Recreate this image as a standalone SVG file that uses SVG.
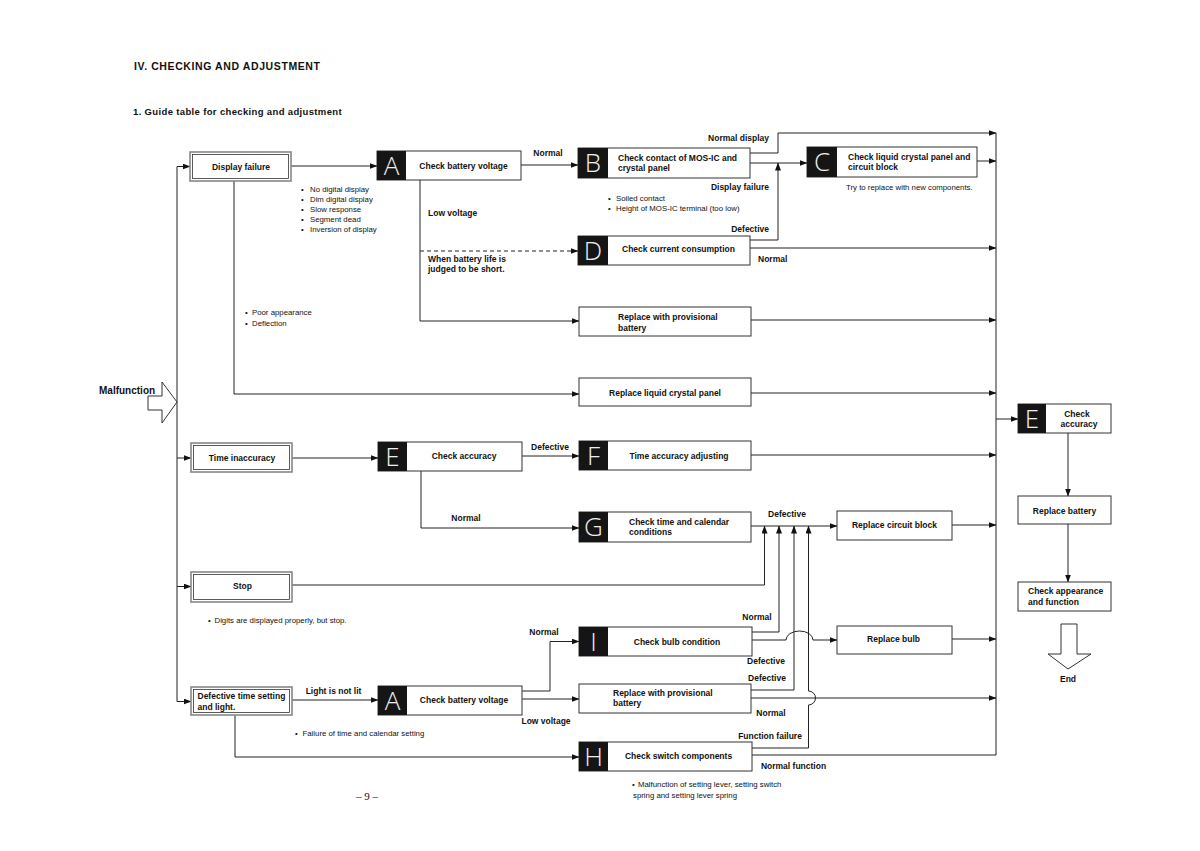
<svg xmlns="http://www.w3.org/2000/svg" width="1200" height="851" viewBox="0 0 1200 851">
<style>
text{font-family:"Liberation Sans",Arial,sans-serif;fill:#111}
.h1{font-size:10.5px;font-weight:bold;letter-spacing:0.6px}
.h2{font-size:9.5px;font-weight:bold;letter-spacing:0.35px}
.b{font-size:8.5px;font-weight:bold}
.s{font-size:7.8px}
.m{text-anchor:middle}
.e{text-anchor:end}
.box{fill:#fff;stroke:#333;stroke-width:1}
.o1{fill:#fff;stroke:#888;stroke-width:1.6}
.o2{fill:none;stroke:#333;stroke-width:0.8}
.blk{fill:#151515}
.let{font-family:"Open Sans","Lato","DejaVu Sans",sans-serif;font-size:26px;fill:#eee;text-anchor:middle;font-weight:300}
.ln{fill:none;stroke:#222;stroke-width:1}
.ar{marker-end:url(#ah)}
.dash{stroke-dasharray:4 3}
.big{fill:#fff;stroke:#333;stroke-width:1}
.pg{font-family:"Liberation Serif",serif;font-size:11px}
</style>
<defs>
<marker id="ah" markerUnits="userSpaceOnUse" markerWidth="8" markerHeight="6" refX="7.5" refY="3" orient="auto">
<path d="M0,0 L8,3 L0,6 z" fill="#111"/>
</marker>
</defs>
<rect width="1200" height="851" fill="#fff"/>

<text class="h1" x="134" y="70">IV.  CHECKING AND ADJUSTMENT</text>
<text class="h2" x="133" y="115">1. Guide table for checking and adjustment</text>

<g id="connectors">
<path class="ln" d="M177,166.5 V701.5"/>
<path class="ln ar" d="M177,166.5 H190"/>
<path class="ln ar" d="M177,458 H191"/>
<path class="ln ar" d="M177,586.5 H191"/>
<path class="ln ar" d="M177,701.5 H191"/>
<path class="ln ar" d="M291,166 H377"/>
<path class="ln ar" d="M234,181 V394 H579"/>
<path class="ln ar" d="M521,165 H578"/>
<path class="ln ar" d="M420,180 V321 H579"/>
<path class="ln ar dash" d="M420,251 H578"/>
<path class="ln ar" d="M750,153 H778 V133 H996"/>
<path class="ln ar" d="M750,163 H807"/>
<path class="ln ar" d="M750,240 H778 V163"/>
<path class="ln ar" d="M750,248 H996"/>
<path class="ln ar" d="M977,161 H996"/>
<path class="ln ar" d="M751,320 H996"/>
<path class="ln ar" d="M751,393 H996"/>
<path class="ln" d="M996,133 V755"/>
<path class="ln ar" d="M996,419 H1018"/>
<path class="ln ar" d="M1068,433 V496"/>
<path class="ln ar" d="M1068,524 V582"/>
<path class="ln ar" d="M292,458 H378"/>
<path class="ln ar" d="M522,456 H579"/>
<path class="ln ar" d="M751,455 H996"/>
<path class="ln ar" d="M421,471 V528 H579"/>
<path class="ln ar" d="M751,526 H837"/>
<path class="ln ar" d="M952,525 H996"/>
<path class="ln ar" d="M292,585 H764.5 V526"/>
<path class="ln ar" d="M752,632 H779 V526"/>
<path class="ln ar" d="M751,690 H794 V526"/>
<path class="ln ar" d="M752,748 H808.5 V705 A7,7 0 0 0 808.5,691 V526"/>
<path class="ln ar" d="M752,640 H786 A13.5,9 0 0 1 813,640 H837"/>
<path class="ln ar" d="M952,639 H996"/>
<path class="ln ar" d="M751,698 H996"/>
<path class="ln" d="M752,755 H996"/>
<path class="ln ar" d="M292,700 H378"/>
<path class="ln ar" d="M522,691 H550 V641.5 H579"/>
<path class="ln ar" d="M522,699 H579"/>
<path class="ln ar" d="M235,715 V757 H579"/>
</g>

<g id="malfunction">
<polygon class="big" points="148,396 162,396 162,382 177,402 162,423 162,410 148,410"/>
<text x="99" y="393.5" style="font-size:10px;font-weight:bold">Malfunction</text>
</g>

<g id="display-failure">
<rect class="o1" x="190" y="152" width="101" height="29"/>
<rect class="o2" x="192.5" y="154.5" width="96" height="24"/>
<text class="b m" x="241" y="169.5">Display failure</text>
</g>
<g id="display-notes">
<text class="s" x="301" y="192">•</text><text class="s" x="310" y="192">No digital display</text>
<text class="s" x="301" y="202">•</text><text class="s" x="310" y="202">Dim digital display</text>
<text class="s" x="301" y="212">•</text><text class="s" x="310" y="212">Slow response</text>
<text class="s" x="301" y="222">•</text><text class="s" x="310" y="222">Segment dead</text>
<text class="s" x="301" y="232">•</text><text class="s" x="310" y="232">Inversion of display</text>
<text class="s" x="245" y="315">•</text><text class="s" x="252" y="315">Poor appearance</text>
<text class="s" x="245" y="325.5">•</text><text class="s" x="252" y="325.5">Deflection</text>
</g>

<g id="node-A1">
<rect class="box" x="377" y="151" width="144" height="29"/>
<rect class="blk" x="377" y="151" width="29" height="29"/>
<text class="let" x="391.5" y="174.5">A</text>
<text class="b m" x="463.5" y="168.5">Check battery voltage</text>
</g>
<text class="b m" x="548" y="156">Normal</text>
<text class="b" x="428" y="215.7">Low voltage</text>
<text class="b" x="428" y="262">When battery life is</text>
<text class="b" x="428" y="272">judged to be short.</text>

<g id="node-B">
<rect class="box" x="578" y="148" width="172" height="30"/>
<rect class="blk" x="578" y="148" width="30" height="30"/>
<text class="let" x="593" y="172">B</text>
<text class="b" x="618" y="161">Check contact of MOS-IC and</text>
<text class="b" x="618" y="171">crystal panel</text>
</g>
<text class="b e" x="769" y="141">Normal display</text>
<text class="b e" x="769" y="190">Display failure</text>
<text class="s" x="608" y="201">•</text><text class="s" x="616" y="201">Soiled contact</text>
<text class="s" x="608" y="211">•</text><text class="s" x="616" y="211">Height of MOS-IC terminal (too low)</text>
<text class="b e" x="769" y="232">Defective</text>

<g id="node-C">
<rect class="box" x="807" y="147" width="170" height="30"/>
<rect class="blk" x="807" y="147" width="30" height="30"/>
<text class="let" x="822" y="171">C</text>
<text class="b" x="848" y="159.5">Check liquid crystal panel and</text>
<text class="b" x="848" y="170">circuit block</text>
</g>
<text class="s" x="846" y="189.5">Try to replace with new components.</text>

<g id="node-D">
<rect class="box" x="578" y="236" width="172" height="29"/>
<rect class="blk" x="578" y="236" width="30" height="29"/>
<text class="let" x="593" y="259.5">D</text>
<text class="b" x="622" y="252">Check current consumption</text>
</g>
<text class="b" x="758" y="262">Normal</text>

<g id="node-prov1">
<rect class="box" x="579" y="307" width="172" height="29"/>
<text class="b" x="618" y="320">Replace with provisional</text>
<text class="b" x="618" y="331">battery</text>
</g>
<g id="node-lcp">
<rect class="box" x="579" y="378" width="172" height="28"/>
<text class="b m" x="665" y="396">Replace liquid crystal panel</text>
</g>

<g id="time-inaccuracy">
<rect class="o1" x="191" y="443" width="101" height="29"/>
<rect class="o2" x="193.5" y="445.5" width="96" height="24"/>
<text class="b m" x="242" y="460.5">Time inaccuracy</text>
</g>
<g id="node-E1">
<rect class="box" x="378" y="442" width="144" height="29"/>
<rect class="blk" x="378" y="442" width="29" height="29"/>
<text class="let" x="392.5" y="465.5">E</text>
<text class="b m" x="464" y="459">Check accuracy</text>
</g>
<text class="b m" x="550" y="449.7">Defective</text>
<text class="b m" x="466" y="521.3">Normal</text>
<g id="node-F">
<rect class="box" x="579" y="441" width="172" height="29"/>
<rect class="blk" x="579" y="441" width="29" height="29"/>
<text class="let" x="593.5" y="464.5">F</text>
<text class="b m" x="679" y="459">Time accuracy adjusting</text>
</g>
<g id="node-G">
<rect class="box" x="579" y="512" width="172" height="30"/>
<rect class="blk" x="579" y="512" width="29" height="30"/>
<text class="let" x="593.5" y="536">G</text>
<text class="b" x="629" y="524.7">Check time and calendar</text>
<text class="b" x="629" y="535">conditions</text>
</g>
<text class="b m" x="787" y="517">Defective</text>
<g id="node-circuit">
<rect class="box" x="837" y="511" width="115" height="29"/>
<text class="b m" x="894.5" y="528">Replace circuit block</text>
</g>

<g id="node-E2">
<rect class="box" x="1018" y="404" width="93" height="29"/>
<rect class="blk" x="1018" y="404" width="28" height="29"/>
<text class="let" x="1032" y="427.5">E</text>
<text class="b m" x="1077" y="417.3">Check</text>
<text class="b m" x="1079" y="427.3">accuracy</text>
</g>
<g id="node-battery">
<rect class="box" x="1018" y="496" width="93" height="28"/>
<text class="b m" x="1064.5" y="514">Replace battery</text>
</g>
<g id="node-appearance">
<rect class="box" x="1018" y="582" width="93" height="29"/>
<text class="b" x="1028" y="594">Check appearance</text>
<text class="b" x="1028" y="605.3">and  function</text>
</g>
<g id="end">
<polygon class="big" points="1061,624 1077,624 1077,654 1091,654 1068,669 1048,654 1061,654"/>
<text class="b m" x="1068" y="681.5">End</text>
</g>

<g id="stop">
<rect class="o1" x="191" y="572" width="101" height="30"/>
<rect class="o2" x="193.5" y="574.5" width="96" height="25"/>
<text class="b m" x="242.5" y="589">Stop</text>
</g>
<text class="s" x="208" y="623">•</text><text class="s" x="214.5" y="623">Digits are displayed properly, but stop.</text>

<g id="def-time">
<rect class="o1" x="191" y="687" width="101" height="28"/>
<rect class="o2" x="193.5" y="689.5" width="96" height="23"/>
<text class="b" x="197.5" y="698.7">Defective time setting</text>
<text class="b" x="197.5" y="709.7">and light.</text>
</g>
<text class="b m" x="333.5" y="693.7">Light is not lit</text>
<text class="s" x="295" y="736.3">•</text><text class="s" x="302.5" y="736.3">Failure of time and calendar setting</text>

<g id="node-A2">
<rect class="box" x="378" y="686" width="144" height="29"/>
<rect class="blk" x="378" y="686" width="29" height="29"/>
<text class="let" x="392.5" y="709.5">A</text>
<text class="b m" x="464" y="703">Check battery voltage</text>
</g>
<text class="b m" x="544" y="634.7">Normal</text>
<text class="b m" x="546" y="723.7">Low voltage</text>

<g id="node-I">
<rect class="box" x="579" y="627" width="173" height="29"/>
<rect class="blk" x="579" y="627" width="29" height="29"/>
<text class="let" x="593.5" y="650.5">I</text>
<text class="b m" x="677" y="644.7">Check bulb condition</text>
</g>
<text class="b m" x="757" y="619.7">Normal</text>
<text class="b m" x="766" y="663.7">Defective</text>
<g id="node-bulb">
<rect class="box" x="837" y="626" width="115" height="28"/>
<text class="b m" x="893.5" y="642.3">Replace bulb</text>
</g>

<g id="node-prov2">
<rect class="box" x="579" y="684" width="172" height="29"/>
<text class="b" x="613" y="695.7">Replace with provisional</text>
<text class="b" x="613" y="706">battery</text>
</g>
<text class="b m" x="767" y="680.7">Defective</text>
<text class="b m" x="771" y="716.3">Normal</text>
<text class="b m" x="770" y="738.7">Function failure</text>

<g id="node-H">
<rect class="box" x="579" y="742" width="173" height="29"/>
<rect class="blk" x="579" y="742" width="29" height="29"/>
<text class="let" x="593.5" y="765.5">H</text>
<text class="b m" x="678.5" y="758.7">Check switch components</text>
</g>
<text class="b m" x="793.5" y="769">Normal function</text>
<text class="s" x="632" y="787">•</text><text class="s" x="638" y="787">Malfunction of setting lever, setting switch</text>
<text class="s" x="633" y="798">spring and setting lever spring</text>

<text class="pg m" x="367" y="800">– 9 –</text>
</svg>
